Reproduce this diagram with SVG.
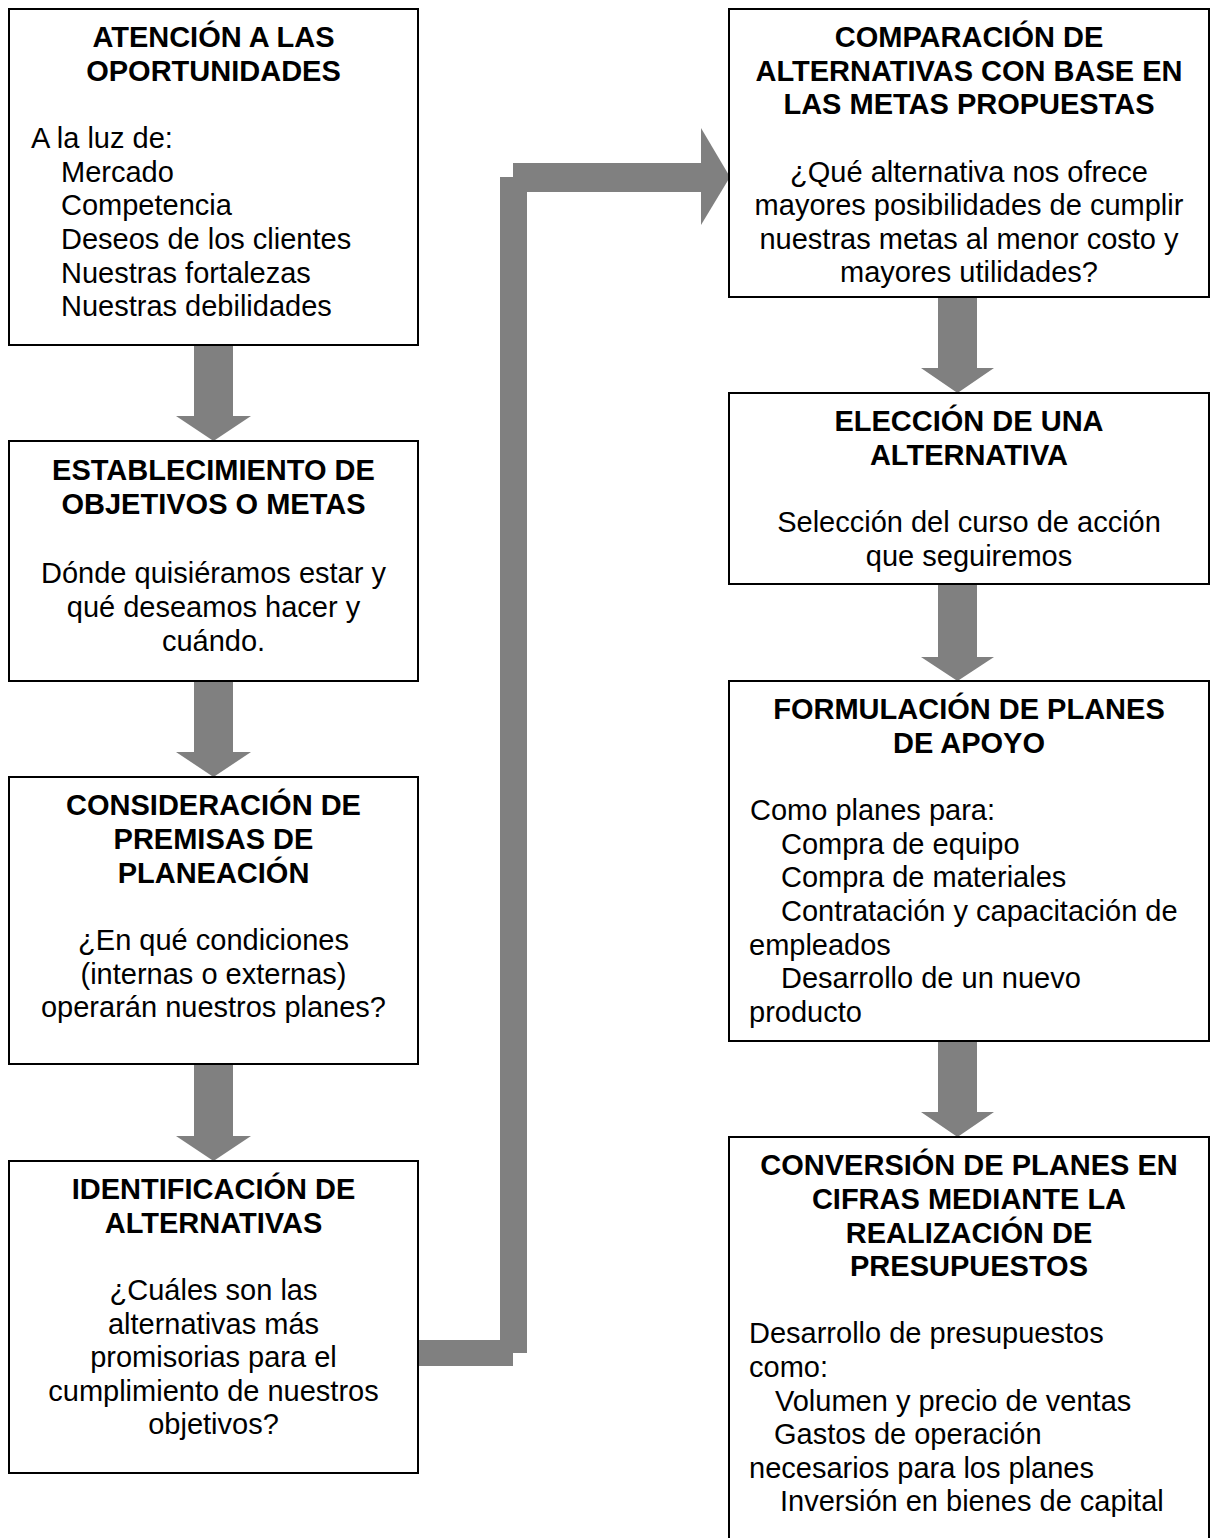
<svg xmlns="http://www.w3.org/2000/svg" width="1211" height="1538" viewBox="0 0 1211 1538">
<style>
.box{fill:#fff;stroke:#000;stroke-width:2}
.t{font-family:"Liberation Sans",Arial,sans-serif;font-size:29px;fill:#000}
.b{font-weight:bold}
.c{text-anchor:middle}
.arr{fill:#808080}
</style>
<rect width="1211" height="1538" fill="#fff"/>
<g id="connectors" class="arr">
<polygon points="194,344 233,344 233,416 251,416 213.5,441 176,416 194,416"/>
<polygon points="194,681 233,681 233,752 251,752 213.5,777 176,752 194,752"/>
<polygon points="194,1064 233,1064 233,1136 251,1136 213.5,1161 176,1136 194,1136"/>
<polygon points="938,297 977,297 977,368 994,368 957.5,393 921,368 938,368"/>
<polygon points="938,584 977,584 977,657 994,657 957.5,681 921,657 938,657"/>
<polygon points="938,1041 977,1041 977,1112 994,1112 957.5,1137 921,1112 938,1112"/>
<rect x="418" y="1340" width="95" height="26"/>
<rect x="500" y="177" width="27" height="1176"/>
<rect x="513" y="163" width="189" height="29"/>
<polygon points="701,128 730,177 701,225"/>
</g>
<g id="n1">
<rect class="box" x="9" y="9" width="409" height="336"/>
<text class="t b c" x="213.5" y="47">ATENCIÓN A LAS</text>
<text class="t b c" x="213.5" y="81">OPORTUNIDADES</text>
<text class="t" x="31" y="148">A la luz de:</text>
<text class="t" x="61" y="182">Mercado</text>
<text class="t" x="61" y="215">Competencia</text>
<text class="t" x="61" y="249">Deseos de los clientes</text>
<text class="t" x="61" y="283">Nuestras fortalezas</text>
<text class="t" x="61" y="316">Nuestras debilidades</text>
</g>
<g id="n2">
<rect class="box" x="9" y="441" width="409" height="240"/>
<text class="t b c" x="213.5" y="480">ESTABLECIMIENTO DE</text>
<text class="t b c" x="213.5" y="514">OBJETIVOS O METAS</text>
<text class="t c" x="213.5" y="583">Dónde quisiéramos estar y</text>
<text class="t c" x="213.5" y="617">qué deseamos hacer y</text>
<text class="t c" x="213.5" y="651">cuándo.</text>
</g>
<g id="n3">
<rect class="box" x="9" y="777" width="409" height="287"/>
<text class="t b c" x="213.5" y="815">CONSIDERACIÓN DE</text>
<text class="t b c" x="213.5" y="849">PREMISAS DE</text>
<text class="t b c" x="213.5" y="883">PLANEACIÓN</text>
<text class="t c" x="213.5" y="950">¿En qué condiciones</text>
<text class="t c" x="213.5" y="984">(internas o externas)</text>
<text class="t c" x="213.5" y="1017">operarán nuestros planes?</text>
</g>
<g id="n4">
<rect class="box" x="9" y="1161" width="409" height="312"/>
<text class="t b c" x="213.5" y="1199">IDENTIFICACIÓN DE</text>
<text class="t b c" x="213.5" y="1233">ALTERNATIVAS</text>
<text class="t c" x="213.5" y="1300">¿Cuáles son las</text>
<text class="t c" x="213.5" y="1334">alternativas más</text>
<text class="t c" x="213.5" y="1367">promisorias para el</text>
<text class="t c" x="213.5" y="1401">cumplimiento de nuestros</text>
<text class="t c" x="213.5" y="1434">objetivos?</text>
</g>
<g id="n5">
<rect class="box" x="729" y="9" width="480" height="288"/>
<text class="t b c" x="969" y="47">COMPARACIÓN DE</text>
<text class="t b c" x="969" y="81">ALTERNATIVAS CON BASE EN</text>
<text class="t b c" x="969" y="114">LAS METAS PROPUESTAS</text>
<text class="t c" x="969" y="182">¿Qué alternativa nos ofrece</text>
<text class="t c" x="969" y="215">mayores posibilidades de cumplir</text>
<text class="t c" x="969" y="249">nuestras metas al menor costo y</text>
<text class="t c" x="969" y="282">mayores utilidades?</text>
</g>
<g id="n6">
<rect class="box" x="729" y="393" width="480" height="191"/>
<text class="t b c" x="969" y="431">ELECCIÓN DE UNA</text>
<text class="t b c" x="969" y="465">ALTERNATIVA</text>
<text class="t c" x="969" y="532">Selección del curso de acción</text>
<text class="t c" x="969" y="566">que seguiremos</text>
</g>
<g id="n7">
<rect class="box" x="729" y="681" width="480" height="360"/>
<text class="t b c" x="969" y="719">FORMULACIÓN DE PLANES</text>
<text class="t b c" x="969" y="753">DE APOYO</text>
<text class="t" x="750" y="820">Como planes para:</text>
<text class="t" x="781" y="854">Compra de equipo</text>
<text class="t" x="781" y="887">Compra de materiales</text>
<text class="t" x="781" y="921">Contratación y capacitación de</text>
<text class="t" x="749" y="955">empleados</text>
<text class="t" x="781" y="988">Desarrollo de un nuevo</text>
<text class="t" x="749" y="1022">producto</text>
</g>
<g id="n8">
<rect class="box" x="729" y="1137" width="480" height="410"/>
<text class="t b c" x="969" y="1175">CONVERSIÓN DE PLANES EN</text>
<text class="t b c" x="969" y="1209">CIFRAS MEDIANTE LA</text>
<text class="t b c" x="969" y="1243">REALIZACIÓN DE</text>
<text class="t b c" x="969" y="1276">PRESUPUESTOS</text>
<text class="t" x="749" y="1343">Desarrollo de presupuestos</text>
<text class="t" x="749" y="1377">como:</text>
<text class="t" x="775" y="1411">Volumen y precio de ventas</text>
<text class="t" x="774" y="1444">Gastos de operación</text>
<text class="t" x="749" y="1478">necesarios para los planes</text>
<text class="t" x="780" y="1511">Inversión en bienes de capital</text>
</g>
</svg>
